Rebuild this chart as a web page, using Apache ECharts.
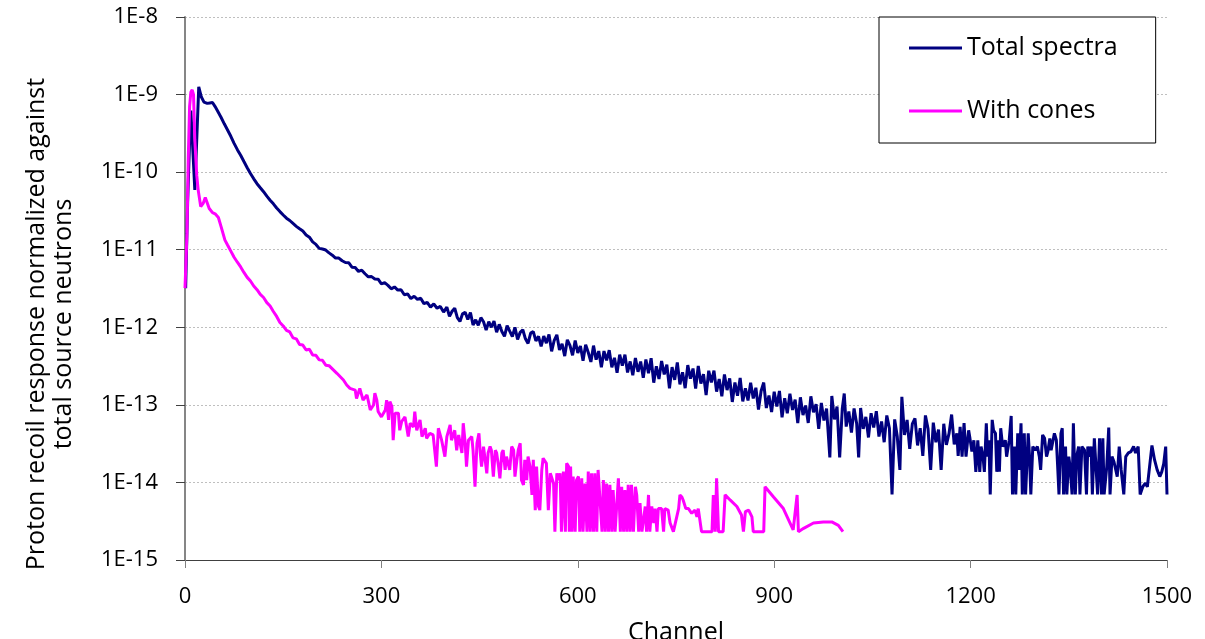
<!DOCTYPE html>
<html>
<head>
<meta charset="utf-8">
<script src="https://cdn.jsdelivr.net/npm/echarts@6/dist/echarts.min.js"></script>
<style>
  html, body { margin: 0; padding: 0; background: #fff; }
  #chart { width: 1205px; height: 639px; }
</style>
</head>
<body>
<div id="chart"></div>
<script>
  // [channel, response]
  var totalSpectra = [
    [1,3.2e-12],[4,4e-11],[7,2.5e-10],[9,6.2e-10],[15,5.9e-11],[21,1.26e-9],[25,9.3e-10],[29,8.0e-10],[34,7.7e-10],[38,7.8e-10],
    [42,7.9e-10],[46,7.0e-10],[50,6.1e-10],[55,5.1e-10],[60,4.2e-10],[65,3.5e-10],[70,2.9e-10],[75,2.35e-10],[80,1.95e-10],[85,1.65e-10],
    [90,1.37e-10],[95,1.14e-10],[100,9.6e-11],[105,8.2e-11],[110,7.1e-11],[115,6.3e-11],[120,5.6e-11],[125,4.9e-11],[130,4.35e-11],[135,3.9e-11],
    [140,3.45e-11],[145,3.1e-11],[150,2.8e-11],[155,2.55e-11],[160,2.38e-11],[165,2.18e-11],[170,2.0e-11],[175,1.86e-11],[180,1.74e-11],[185,1.55e-11],
    [190,1.45e-11],[195,1.26e-11],[200,1.17e-11],[205,1.04e-11],[210,1.02e-11],[215,9.9e-12],[220,9.1e-12],[225,8.5e-12],[230,7.8e-12],[235,7.8e-12],
    [240,7.2e-12],[245,6.85e-12],[250,6.8e-12],[255,5.95e-12],[260,5.9e-12],[265,5.25e-12],[270,5.45e-12],[275,4.9e-12],[280,4.47e-12],[285,4.5e-12],
    [290,4.2e-12],[295,4.17e-12],[300,3.63e-12],[305,3.76e-12],[310,3.47e-12],[315,3.13e-12],[320,3.31e-12],[325,3.02e-12],[330,3.05e-12],[335,2.63e-12],
    [340,2.69e-12],[345,2.34e-12],[350,2.51e-12],[355,2.29e-12],[360,2.37e-12],[365,2.02e-12],[370,2.09e-12],[375,1.82e-12],[380,2.0e-12],[385,1.76e-12],
    [390,1.86e-12],[395,1.57e-12],
    [400,1.82e-12],[404,1.38e-12],[408,1.61e-12],[412,1.76e-12],[416,1.33e-12],[420,1.19e-12],[424,1.49e-12],[428,1.56e-12],[432,1.26e-12],[436,1.55e-12],
    [440,1.07e-12],[444,1.25e-12],[448,1.06e-12],[452,1.33e-12],[456,1.18e-12],[460,9.2e-13],[464,1.18e-12],[468,1.0e-12],[472,1.2e-12],[476,8.65e-13],
    [480,1.09e-12],[484,8.8e-13],[488,7.66e-13],[492,1.05e-12],[496,8.9e-13],[500,7.6e-13],[504,1.0e-12],[508,6.98e-13],[512,8.6e-13],[516,9.3e-13],
    [520,7.1e-13],[524,6.2e-13],[528,8.4e-13],[532,8.8e-13],[536,6.67e-13],[540,7.66e-13],[544,5.68e-13],[548,7.7e-13],[552,6.25e-13],[556,8.1e-13],
    [560,4.9e-13],[564,6.8e-13],[568,8.0e-13],[572,5.1e-13],[576,6.1e-13],[580,4.25e-13],[584,6.9e-13],[588,5.86e-13],[592,4.36e-13],[596,6.75e-13],
    [600,4.68e-13],[604,5.74e-13],[608,3.7e-13],[612,5.97e-13],[616,4.73e-13],[620,3.58e-13],[624,5.8e-13],[628,3.83e-13],[632,4.93e-13],[636,3.05e-13],
    [640,4.94e-13],[644,3.75e-13],[648,5.06e-13],[652,3.05e-13],[656,4.04e-13],[660,2.6e-13],[664,4.43e-13],[668,3.21e-13],[672,4.44e-13],[676,2.62e-13],
    [680,3.63e-13],[684,2.41e-13],[688,4.02e-13],[692,2.67e-13],[696,3.61e-13],[700,2.24e-13],[704,3.84e-13],[708,2.56e-13],[712,3.99e-13],[716,1.93e-13],
    [720,3.15e-13],[724,2.15e-13],[728,3.68e-13],[732,2.47e-13],[736,3.29e-13],[740,1.63e-13],[744,3.07e-13],[748,2.1e-13],[752,3.53e-13],[756,1.84e-13],
    [760,2.63e-13],[764,1.64e-13],[768,3.25e-13],[772,2.18e-13],[776,2.94e-13],[780,1.62e-13],[784,3.18e-13],[788,1.88e-13],[792,2.49e-13],[796,1.34e-13],
    [800,2.75e-13],[804,1.95e-13],[808,2.76e-13],[812,1.48e-13],[816,2.15e-13],[820,1.29e-13],[824,2.47e-13],[828,1.55e-13],[832,2.19e-13],[836,1.09e-13],
    [840,1.94e-13],[844,1.31e-13],[848,2.22e-13],[852,1.11e-13],[856,1.63e-13],[860,1.14e-13],[864,1.93e-13],[868,1.21e-13],[872,1.66e-13],[876,8.7e-14],
    [880,1.51e-13],[884,1.94e-13],[888,9.1e-14],[892,1.32e-13],[896,8.1e-14],[900,1.48e-13],[904,9.5e-14],[908,1.51e-13],[912,6.9e-14],[916,1.22e-13],
    [920,7.8e-14],[924,1.39e-13],[928,8.6e-14],[932,1.17e-13],[936,5.8e-14],[940,1.25e-13],[944,7.4e-14],[948,9.8e-14],[952,5.85e-14],[956,1.29e-13],
    [960,8.0e-14],[964,1.02e-13],[968,4.9e-14],[972,1.06e-13],[976,6.3e-14],[980,8.95e-14],[985,2.1e-14],[988,1.3e-13],[992,6.5e-14],[996,9.5e-14],
    [1000,2.1e-14],[1004,8.95e-14],[1007,1.4e-13],[1010,5.25e-14],[1014,8.2e-14],[1018,4.4e-14],[1022,9.0e-14],[1026,5.7e-14],[1029,2.1e-14],[1032,9.1e-14],
    [1036,4.9e-14],[1040,7.0e-14],[1044,3.8e-14],[1048,7.8e-14],[1052,5.1e-14],[1056,8.3e-14],[1060,3.9e-14],[1064,6.1e-14],[1068,3.3e-14],[1072,7.3e-14],
    [1076,5.0e-14],[1080,7.0e-15],[1084,6.5e-14],[1088,3.9e-14],[1092,1.45e-14],[1095,1.27e-13],[1099,4.1e-14],[1103,6.4e-14],[1107,2.7e-14],[1111,5.7e-14],
    [1115,6.7e-14],[1119,3.0e-14],[1123,5.0e-14],[1127,2.2e-14],[1131,7.3e-14],[1135,4.9e-14],[1139,1.45e-14],[1143,5.9e-14],[1147,3.3e-14],[1151,4.8e-14],
    [1155,1.45e-14],[1159,5.7e-14],[1163,3.05e-14],[1167,4.25e-14],[1171,7.5e-14],[1175,3.1e-14],[1179,4.3e-14],[1181,2.2e-14],
    [1184,5.2e-14],[1187,2.15e-14],[1190,5.8e-14],[1193,2.15e-14],[1197,4.7e-14],[1199,3.7e-14],[1202,2.5e-14],[1205,3.5e-14],[1208,1.37e-14],[1211,3.5e-14],
    [1214,1.37e-14],[1216,2.9e-14],[1219,2.15e-14],[1221,1.37e-14],[1224,5.8e-14],[1226,2.15e-14],[1228,3.5e-14],[1230,7.0e-15],[1233,6.4e-14],[1235,4.7e-14],
    [1238,4.3e-14],[1240,1.37e-14],[1243,3.5e-14],[1244,1.37e-14],[1246,5.0e-14],[1249,2.9e-14],[1253,3.5e-14],[1255,2.15e-14],[1259,3.5e-14],[1262,7.2e-14],
    [1264,7.0e-15],[1267,2.9e-14],[1269,7.0e-15],[1272,4.3e-14],[1274,1.45e-14],[1277,5.8e-14],[1279,7.0e-15],[1282,4.3e-14],[1284,7.0e-15],[1288,4.3e-14],
    [1290,2.15e-14],[1292,7.0e-15],[1295,2.9e-14],[1299,2.6e-14],[1302,2.9e-14],[1305,2.15e-14],[1307,1.45e-14],[1310,4.1e-14],[1313,3.7e-14],[1316,2.15e-14],
    [1318,2.5e-14],[1321,3.7e-14],[1323,2.6e-14],[1326,3.5e-14],[1328,4.3e-14],[1331,3.5e-14],[1333,1.6e-14],[1335,7.0e-15],[1338,4.3e-14],[1340,5.0e-14],
    [1342,7.0e-15],[1345,2.9e-14],[1347,7.0e-15],[1350,2.15e-14],[1352,1.6e-14],[1355,7.0e-15],[1357,5.8e-14],[1360,7.0e-15],[1362,2.15e-14],[1365,2.9e-14],
    [1367,7.0e-15],[1370,2.9e-14],[1374,2.6e-14],[1377,7.0e-15],[1379,2.9e-14],[1382,2.15e-14],[1384,2.9e-14],[1386,7.0e-15],[1389,3.7e-14],[1392,3.7e-14],
    [1394,7.0e-15],[1397,3.7e-14],[1400,7.0e-15],[1402,3.7e-14],[1404,7.0e-15],[1408,1.6e-14],[1411,5.1e-14],[1413,7.0e-15],[1416,2.15e-14],[1419,1.85e-14],
    [1424,1.19e-14],[1427,2.9e-14],[1430,1.45e-14],[1434,7.0e-15],[1437,2.15e-14],[1441,2.4e-14],[1445,2.5e-14],[1449,2.9e-14],[1452,2.4e-14],[1456,2.9e-14],
    [1459,7.0e-15],[1463,8.8e-15],[1467,9.8e-15],[1470,8.8e-15],[1477,3.0e-14],[1481,1.95e-14],[1485,1.45e-14],[1489,1.19e-14],[1492,1.37e-14],[1495,1.75e-14],
    [1498,2.9e-14],[1500,7.0e-15]
  ]

  var withCones = [
    [0,3.2e-12],[3,1.6e-11],[5,1.5e-10],[7,7.0e-10],[9,1.08e-9],[11,1.15e-9],[13,1.0e-9],[15,2.6e-10],[18,9.0e-11],[20,6.0e-11],
    [24,3.6e-11],[28,4.0e-11],[31,4.7e-11],[34,4.0e-11],[37,3.4e-11],[42,3.0e-11],[46,2.9e-11],[49,2.85e-11],[51,2.6e-11],[55,2.0e-11],
    [61,1.33e-11],[65,1.15e-11],[70,9.6e-12],[75,8.0e-12],[80,6.9e-12],[85,6.0e-12],[90,5.1e-12],[95,4.4e-12],[100,3.95e-12],[105,3.4e-12],
    [110,3.05e-12],[115,2.65e-12],[120,2.42e-12],[125,2.08e-12],[130,1.88e-12],[135,1.6e-12],[140,1.38e-12],[145,1.15e-12],[150,1.04e-12],[155,9.1e-13],
    [160,8.7e-13],[165,7.3e-13],[170,7.1e-13],[175,6.0e-13],[180,5.9e-13],[185,5.1e-13],[190,5.2e-13],[195,4.4e-13],[200,4.35e-13],[205,3.8e-13],
    [210,3.75e-13],[215,3.25e-13],[220,3.2e-13],[222,3.1e-13],[232,2.55e-13],[242,2.09e-13],[247,1.8e-13],[252,1.63e-13],[260,1.55e-13],[262,1.21e-13],
    [267,1.63e-13],[272,1.15e-13],[278,1.34e-13],[283,8.6e-14],[288,9.95e-14],[290,1.41e-13],[293,1.15e-13],[295,8.2e-14],[300,7.0e-14],[306,8.6e-14],
    [308,1.15e-13],[311,6.4e-14],[313,1.1e-13],[316,9.5e-14],[318,3.5e-14],[321,7.8e-14],[326,7.8e-14],[328,4.7e-14],[331,6.1e-14],[336,7.0e-14],
    [341,3.9e-14],[344,5.8e-14],[349,5.2e-14],[351,8.2e-14],[354,4.7e-14],[359,6.4e-14],[362,3.9e-14],[367,5.0e-14],[369,3.7e-14],[374,4.3e-14],
    [379,4.1e-14],[384,1.6e-14],[387,5.0e-14],[392,3.5e-14],[397,2.15e-14],[400,3.9e-14],[405,5.5e-14],[407,3.5e-14],[412,4.7e-14],[415,2.6e-14],
    [418,4.1e-14],[423,2.4e-14],[425,5.8e-14],[428,3.2e-14],[430,1.6e-14],[433,3.5e-14],[438,3.9e-14],[440,2.6e-14],[443,8.8e-15],[446,3.2e-14],
    [449,4.3e-14],[451,2.4e-14],[453,1.6e-14],[456,2.9e-14],[461,1.31e-14],[463,2.4e-14],[466,2.9e-14],[468,2.6e-14],[471,1.19e-14],[474,2.6e-14],
    [476,2.4e-14],[479,1.6e-14],[481,1.13e-14],[484,2.4e-14],[486,2.6e-14],[489,1.45e-14],[491,2.15e-14],[496,1.45e-14],[499,2.9e-14],[502,2.6e-14],
    [504,1.19e-14],[507,1.95e-14],[509,2.6e-14],[512,3.2e-14],[514,1.07e-14],[517,9.3e-15],[519,1.95e-14],[522,1.07e-14],[524,2.15e-14],[527,1.6e-14],
    [530,6.9e-15],[532,1.95e-14],[535,4.4e-15],[537,1.6e-14],[540,4.9e-15],[542,4.4e-15],[545,1.45e-14],[547,2.05e-14],[552,1.76e-14],[555,4.4e-15],
    [558,1.31e-14],[563,9.7e-15],[565,2.32e-15],[568,1.31e-14],[570,1.07e-14],[573,1.31e-14],[575,2.32e-15],[578,1.38e-14],[581,2.32e-15],[583,1.76e-14],
    [586,1.6e-14],[587,2.32e-15],[589,1.6e-14],[591,2.32e-15],[593,1.19e-14],[596,2.32e-15],[598,1.07e-14],[601,1.19e-14],[603,2.32e-15],[606,1.13e-14],
    [608,2.32e-15],[611,9.7e-15],[614,2.32e-15],[616,1.38e-14],[619,2.32e-15],[621,1.31e-14],[624,2.32e-15],[626,1.31e-14],[629,2.32e-15],[631,1.45e-14],
    [634,1.38e-14],[637,2.32e-15],[639,1.07e-14],[642,2.32e-15],[644,9.7e-15],[647,2.32e-15],[649,9.3e-15],[652,2.32e-15],[654,8.0e-15],[657,2.32e-15],
    [662,1.13e-14],[665,2.32e-15],[667,8.8e-15],[670,2.32e-15],[672,8.0e-15],[675,2.32e-15],[677,9.3e-15],[680,2.32e-15],[682,9.3e-15],[685,2.32e-15],
    [688,8.8e-15],[690,6.9e-15],[693,2.32e-15],[695,5.4e-15],[698,2.32e-15],[703,4.9e-15],[705,2.32e-15],[708,6.9e-15],[710,2.32e-15],[713,4.9e-15],
    [716,3.0e-15],[718,4.6e-15],[721,2.32e-15],[723,4.6e-15],[728,4.6e-15],[731,2.32e-15],[733,4.6e-15],[738,4.4e-15],[741,3.0e-15],[746,2.32e-15],
    [754,4.6e-15],[756,6.9e-15],[759,6.5e-15],[761,5.9e-15],[765,4.6e-15],[769,4.6e-15],[774,4.0e-15],[777,3.8e-15],[779,4.4e-15],[782,3.6e-15],
    [784,4.6e-15],[787,4.4e-15],[789,2.32e-15],[805,2.32e-15],[807,6.9e-15],[810,2.32e-15],[812,1.13e-14],[815,2.32e-15],[822,2.32e-15],[825,6.9e-15],
    [833,5.9e-15],[843,4.9e-15],[850,3.8e-15],[853,2.32e-15],[856,4.2e-15],[861,4.4e-15],[866,3.6e-15],[868,2.32e-15],[884,2.32e-15],[886,8.8e-15],
    [899,6.5e-15],[914,4.6e-15],[929,2.44e-15],[932,2.32e-15],[935,6.9e-15],[937,2.32e-15],[945,2.56e-15],[960,3.0e-15],[975,3.1e-15],[988,3.1e-15],
    [998,2.8e-15],[1005,2.32e-15]
  ]

  var seriesNames = ['Total spectra', 'With cones']
  var seriesColors = ['#000080', '#ff00ff']
  var yTickLabels = ['1E-15', '1E-14', '1E-13', '1E-12', '1E-11', '1E-10', '1E-9', '1E-8']

  var font = "'Open Sans', sans-serif"
  var chart = echarts.init(document.getElementById('chart'))
  var option = {
    animation: false,
    backgroundColor: '#fff',
    grid: { left: 185, right: 38, top: 17, bottom: 79, outerBoundsMode: 'none' },
    legend: {
      orient: 'vertical',
      left: 879,
      top: 17,
      padding: [16, 38, 17, 30],
      itemGap: 33,
      itemWidth: 53,
      itemHeight: 3,
      icon: 'rect',
      borderColor: '#000',
      borderWidth: 1,
      backgroundColor: '#fff',
      textStyle: { fontFamily: font, fontSize: 25, color: '#000', lineHeight: 30 },
      data: seriesNames
    },
    xAxis: {
      type: 'value',
      min: 0,
      max: 1500,
      interval: 300,
      name: 'Channel',
      nameLocation: 'middle',
      nameGap: 60,
      nameTextStyle: { fontFamily: font, fontSize: 25, color: '#000' },
      axisLine: { onZero: false, lineStyle: { color: '#404040', width: 1 } },
      axisTick: { show: true, length: 8, lineStyle: { color: '#808080' } },
      axisLabel: {
        margin: 26, fontFamily: font, fontSize: 22, color: '#000',
        formatter: function (v) { return String(v) }
      },
      splitLine: { show: false }
    },
    yAxis: {
      type: 'log',
      logBase: 10,
      min: 1e-15,
      max: 1e-8,
      axisLine: { show: true, onZero: false, lineStyle: { color: '#868686', width: 2 } },
      axisTick: { show: true, length: 9, lineStyle: { color: '#404040' } },
      axisLabel: {
        margin: 27,
        fontFamily: font,
        fontSize: 22,
        color: '#000',
        formatter: function (v) {
          return yTickLabels[Math.round(Math.log10(v)) + 15]
        }
      },
      splitLine: { show: true, lineStyle: { color: '#bfbfbf', type: [2, 2] } }
    },
    graphic: [{
      type: 'text',
      x: 50,
      y: 324,
      rotation: Math.PI / 2,
      style: {
        text: 'Proton recoil response normalized against\ntotal source neutrons',
        fontFamily: font,
        fontSize: 25,
        lineHeight: 27,
        fill: '#000',
        textAlign: 'center',
        textVerticalAlign: 'middle'
      }
    }],
    series: [
      {
        name: seriesNames[0],
        type: 'line',
        data: totalSpectra,
        symbol: 'none',
        lineStyle: { color: seriesColors[0], width: 3 },
        itemStyle: { color: seriesColors[0] }
      },
      {
        name: seriesNames[1],
        type: 'line',
        data: withCones,
        symbol: 'none',
        lineStyle: { color: seriesColors[1], width: 3 },
        itemStyle: { color: seriesColors[1] }
      }
    ]
  }
  chart.setOption(option)
</script>
</body>
</html>
